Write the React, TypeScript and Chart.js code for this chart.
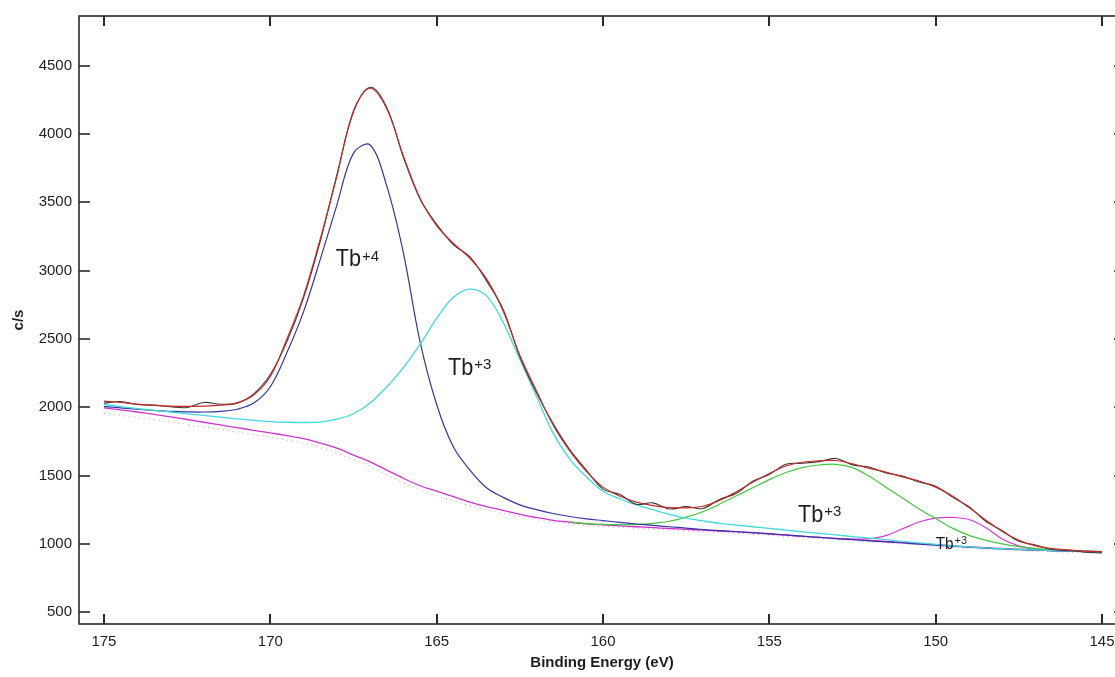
import React, { useEffect, useRef } from "react";
import { Chart, registerables } from "chart.js";

Chart.register(...registerables);

const FONT = "'Liberation Sans', Arial, Helvetica, sans-serif";

// Binding energy grid (eV)
const energy = [
  175, 174.5, 174, 173.5, 173, 172.5, 172, 171.5, 171, 170.5, 170,
  169.5, 169, 168.5, 168, 167.5, 167, 166.5, 166, 165.5, 165,
  164.5, 164, 163.5, 163, 162.5, 162, 161.5, 161, 160.5, 160,
  159.5, 159, 158.5, 158, 157.5, 157, 156.5, 156, 155.5, 155,
  154.5, 154, 153.5, 153, 152.5, 152, 151.5, 151, 150.5, 150,
  149.5, 149, 148.5, 148, 147.5, 147, 146.5, 146, 145.5, 145,
];

// Measured spectrum (c/s)
const rawCounts = [
  2030, 2042, 2020, 2016, 2003, 1998, 2035, 2022, 2030, 2098, 2240,
  2480, 2800, 3215, 3700, 4160, 4342, 4195, 3830, 3525, 3340,
  3190, 3100, 2925, 2715, 2370, 2105, 1880, 1690, 1540, 1400,
  1362, 1290, 1300, 1255, 1272, 1258, 1325, 1368, 1458, 1508,
  1582, 1590, 1602, 1625, 1578, 1562, 1518, 1497, 1452, 1422,
  1342, 1272, 1165, 1096, 1018, 992, 958, 952, 938, 934,
];

// Fitted envelope
const envelope = [
  2045, 2035, 2022, 2013, 2008, 2006, 2008, 2015, 2032, 2090, 2225,
  2500, 2815, 3230, 3690, 4170, 4335, 4185, 3840, 3530, 3330,
  3200, 3090, 2940, 2705, 2380, 2120, 1870, 1680, 1530, 1415,
  1350, 1305, 1280, 1266, 1263, 1275, 1318, 1380, 1450, 1515,
  1570, 1597, 1608, 1610, 1585, 1552, 1525, 1490, 1460, 1415,
  1350, 1265, 1175, 1090, 1025, 985, 965, 955, 946, 943,
];

// Tb+4 component
const tb4Peak = [
  2005, 1995, 1985, 1977, 1970, 1966, 1965, 1970, 1985, 2030, 2150,
  2400, 2700, 3080, 3480, 3860, 3920, 3620, 3130, 2480, 2020,
  1710, 1540, 1410, 1340, 1285, 1250, 1222, 1200, 1183, 1170,
  1157, 1145, 1135, 1125, 1115, 1105, 1097, 1090, 1082, 1074,
  1065, 1056, 1047, 1038, 1030, 1022, 1014, 1006, 998, 990,
  982, 975, 968, 962, 957, 953, 949, 946, 943, 941,
];

// Tb+3 component (main region)
const tb3PeakA = [
  2020, 2005, 1990, 1977, 1965, 1952, 1940, 1927, 1915, 1904, 1895,
  1890, 1888, 1891, 1912, 1952, 2030, 2150, 2290, 2460, 2650,
  2805, 2865, 2815, 2620, 2350, 2080, 1810, 1620, 1490, 1385,
  1330, 1285, 1250, 1215, 1188, 1168, 1150, 1137, 1125, 1113,
  1100, 1088, 1076, 1065, 1053, 1042, 1030, 1018, 1007, 996,
  986, 977, 970, 964, 959, 955, 951, 948, 945, 943,
];

// Tb+3 component (~153 eV)
const tb3PeakB = [
  null, null, null, null, null, null, null, null, null, null, null,
  null, null, null, null, null, null, null, null, null, null,
  null, null, null, null, null, null, null, 1160, 1148, 1142,
  1140, 1141, 1150, 1165, 1195, 1235, 1290, 1350, 1410, 1470,
  1522, 1558, 1577, 1582, 1558, 1495, 1415, 1335, 1255, 1185,
  1115, 1062, 1027, 1000, 980, 966, 956, 950, 946, 943,
];

// Tb+3 component (~150 eV)
const tb3PeakC = [
  null, null, null, null, null, null, null, null, null, null, null,
  null, null, null, null, null, null, null, null, null, null,
  null, null, null, null, null, null, null, null, null, null,
  null, null, null, null, null, null, null, null, null, null,
  null, null, null, 1040, 1034, 1038, 1060, 1110, 1160, 1188,
  1193, 1178, 1120, 1035, 985, 962, 953, 948, 945, 943,
];

// Background (Shirley)
const background = [
  1995, 1980, 1965, 1948, 1930, 1910, 1890, 1870, 1850, 1831, 1812,
  1792, 1770, 1738, 1700, 1650, 1600, 1540, 1480, 1425, 1385,
  1345, 1305, 1272, 1245, 1215, 1192, 1172, 1158, 1147, 1138,
  1131, 1125, 1118, 1112, 1106, 1100, 1094, 1088, 1080, 1072,
  1063, 1055, 1047, 1040, 1032, 1025, 1017, 1010, 1002, 994,
  986, 978, 972, 966, 961, 956, 952, 948, 945, 943,
];

// Residual background trace (dotted)
const backgroundDots = [
  1955, 1940, 1925, 1910, 1893, 1875, 1856, 1838, 1820, 1800, 1780,
  1760, 1737, 1705, 1665, 1615, 1565, 1505, 1448, 1395, 1352,
  1315, 1280, 1250, 1225, 1200, 1178, 1160, 1145, 1135, 1127,
  1121, 1115, 1108, 1102, 1096, 1090, 1084, 1078, 1070, 1062,
  1054, 1046, 1038, 1030, 1022, 1015, 1007, 1000, 992, 984,
  976, 969, 962, 956, 951, 946, 942, 938, 935, 932,
];

const xTicks = [175, 170, 165, 160, 155, 150, 145];
const yTicks = [500, 1000, 1500, 2000, 2500, 3000, 3500, 4000, 4500];

const peakLabels = [
  { main: "Tb", sup: "+4", x: 168.03, y: 3031, size: 24, supSize: 15, raise: 5 },
  { main: "Tb", sup: "+3", x: 164.66, y: 2238, size: 24, supSize: 15, raise: 6 },
  { main: "Tb", sup: "+3", x: 154.14, y: 1162, size: 24, supSize: 15, raise: 6 },
  { main: "Tb", sup: "+3", x: 150.0, y: 965, size: 17, supSize: 11, raise: 5 },
];

const toPoints = (vals: (number | null)[]) =>
  energy.map((e, i) => ({ x: e, y: vals[i] }));

const framePlugin = {
  id: "frameTicks",
  afterDraw(chart: any) {
    const { ctx, chartArea: a, scales } = chart;
    const xs = scales.x;
    const ys = scales.y;
    ctx.save();
    ctx.strokeStyle = "#2a2a2a";
    ctx.lineWidth = 1.6;
    ctx.strokeRect(a.left, a.top, a.right - a.left, a.bottom - a.top);
    const seg = (x1: number, y1: number, x2: number, y2: number) => {
      ctx.beginPath();
      ctx.moveTo(x1, y1);
      ctx.lineTo(x2, y2);
      ctx.stroke();
    };
    ctx.lineWidth = 2;
    xTicks.forEach((v) => {
      const px = Math.round(xs.getPixelForValue(v));
      seg(px, a.bottom, px, a.bottom - 10);
      seg(px, a.top, px, a.top + 10);
    });
    ctx.lineWidth = 1.6;
    yTicks.forEach((v) => {
      const py = Math.round(ys.getPixelForValue(v));
      seg(a.left, py, a.left + 11, py);
      seg(a.right, py, a.right - 11, py);
    });
    ctx.restore();
  },
  afterDatasetsDraw(chart: any) {
    const { ctx, scales } = chart;
    const xs = scales.x;
    const ys = scales.y;
    ctx.save();
    ctx.fillStyle = "#1e1e1e";
    ctx.textBaseline = "alphabetic";
    peakLabels.forEach((l) => {
      const px = xs.getPixelForValue(l.x);
      const py = ys.getPixelForValue(l.y);
      ctx.save();
      ctx.translate(px, py);
      ctx.scale(0.9, 1);
      ctx.font = `${l.size}px ${FONT}`;
      ctx.fillText(l.main, 0, 0);
      const w = ctx.measureText(l.main).width * 0.9;
      ctx.restore();
      ctx.font = `${l.supSize}px ${FONT}`;
      ctx.fillText(l.sup, px + w + 1, py - l.raise);
    });
    ctx.restore();
  },
};

export default function App() {
  const ref = useRef<HTMLCanvasElement | null>(null);

  useEffect(() => {
    if (!ref.current) return;
    const line = (
      data: (number | null)[],
      color: string,
      width = 1.2,
      dash: number[] = []
    ) => ({
      data: toPoints(data),
      borderColor: color,
      backgroundColor: color,
      borderWidth: width,
      borderDash: dash,
      pointRadius: 0,
      fill: false,
      spanGaps: false,
      tension: 0.35,
    });

    const chart = new Chart(ref.current, {
      type: "line",
      data: {
        datasets: [
          { label: "Envelope", ...line(envelope, "#c42a26", 1.2) },
          { label: "Raw", ...line(rawCounts, "#3a3a3a", 1.1) },
          { label: "Tb+3 (164)", ...line(tb3PeakA, "#3fdada", 1.3) },
          { label: "Tb+4", ...line(tb4Peak, "#3434a6", 1.2) },
          { label: "Tb+3 (153)", ...line(tb3PeakB, "#3ec83e", 1.2) },
          { label: "Tb+3 (150)", ...line(tb3PeakC, "#d23cd2", 1.2) },
          { label: "Background", ...line(background, "#cc35cc", 1.3) },
          { label: "Background dots", ...line(backgroundDots, "#e49cbf", 1.2, [1, 4]) },
        ],
      },
      options: {
        animation: false,
        responsive: false,
        devicePixelRatio: 1,
        layout: { padding: { left: 0, top: 12, right: 10, bottom: 0 } },
        plugins: {
          legend: { display: false },
          tooltip: { enabled: false },
        },
        scales: {
          x: {
            type: "linear",
            reverse: true,
            min: 144.31,
            max: 175.75,
            afterBuildTicks: (s: any) => {
              s.ticks = xTicks.map((v) => ({ value: v }));
            },
            afterFit: (s: any) => {
              s.height = 53;
            },
            grid: { display: false, drawTicks: false },
            border: { display: false },
            ticks: {
              font: { family: FONT, size: 15 },
              color: "#1e1e1e",
              padding: 9,
              maxRotation: 0,
              autoSkip: false,
              callback: (v: any) => String(v),
            },
            title: {
              display: true,
              text: "Binding Energy (eV)",
              font: { family: FONT, size: 15, weight: "bold" },
              color: "#1e1e1e",
              padding: { top: 0, bottom: 5 },
            },
          },
          y: {
            type: "linear",
            min: 413,
            max: 4864,
            afterBuildTicks: (s: any) => {
              s.ticks = yTicks.map((v) => ({ value: v }));
            },
            afterFit: (s: any) => {
              s.width = 79;
            },
            grid: { display: false, drawTicks: false },
            border: { display: false },
            ticks: {
              font: { family: FONT, size: 15 },
              color: "#1e1e1e",
              padding: 7,
              autoSkip: false,
              callback: (v: any) => String(v),
            },
            title: {
              display: true,
              text: "c/s",
              font: { family: FONT, size: 15, weight: "bold" },
              color: "#1e1e1e",
              padding: { top: 10, bottom: 0 },
            },
          },
        },
      },
      plugins: [framePlugin],
    });
    return () => chart.destroy();
  }, []);

  return (
    <div
      style={{
        position: "fixed",
        left: 0,
        top: 0,
        width: 1135,
        height: 677,
        background: "#ffffff",
      }}
    >
      <canvas ref={ref} width={1135} height={677} />
    </div>
  );
}
